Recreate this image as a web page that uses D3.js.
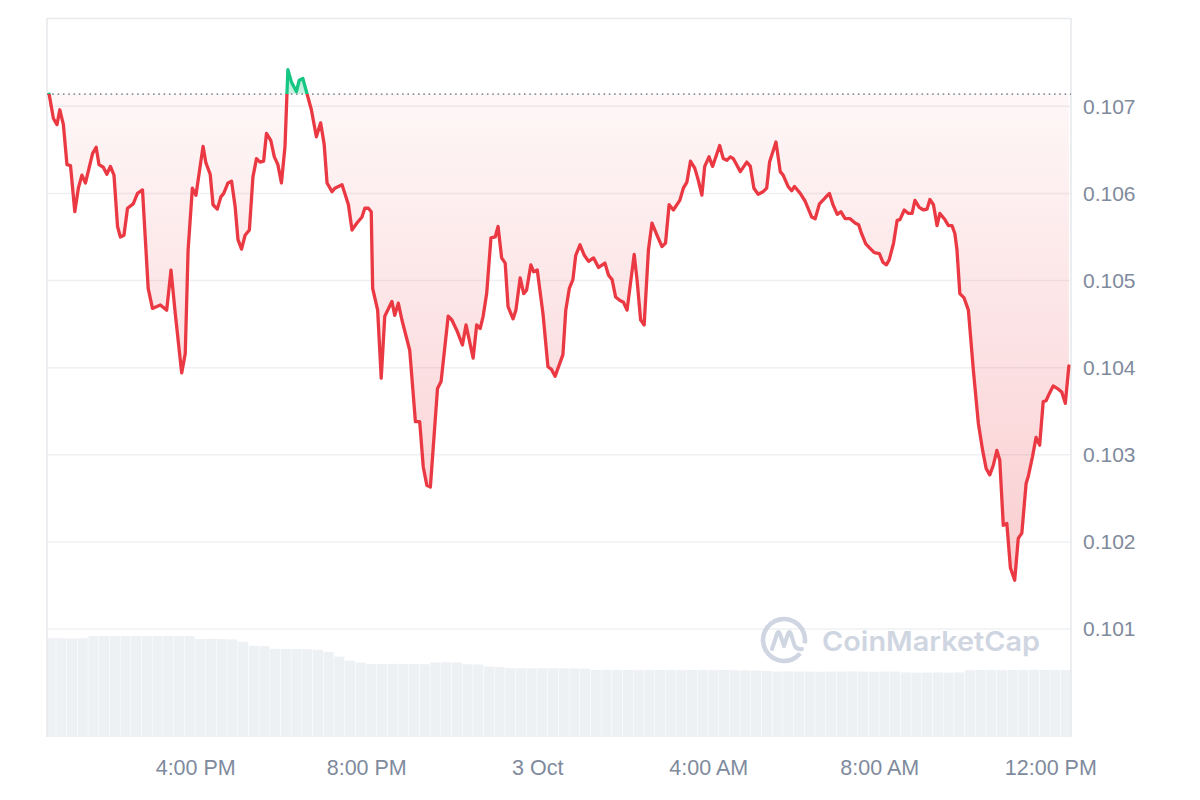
<!DOCTYPE html>
<html>
<head>
<meta charset="utf-8">
<script src="https://cdn.jsdelivr.net/npm/d3@7"></script>
<style>
  html, body { margin: 0; padding: 0; background: #ffffff; }
  svg { display: block; }
</style>
</head>
<body>
<svg id="chart" width="1200" height="800"></svg>
<script>
// ---------- DATA ----------
const openPrice = 0.10714;
const priceTimes = [
"10-02 12:35","10-02 12:41","10-02 12:46","10-02 12:50","10-02 12:55","10-02 13:00","10-02 13:05","10-02 13:11","10-02 13:16","10-02 13:21",
"10-02 13:26","10-02 13:36","10-02 13:41","10-02 13:45","10-02 13:51","10-02 13:56","10-02 14:01","10-02 14:06","10-02 14:11","10-02 14:15",
"10-02 14:20","10-02 14:25","10-02 14:33","10-02 14:39","10-02 14:46","10-02 14:54","10-02 15:00","10-02 15:11","10-02 15:20","10-02 15:26",
"10-02 15:32","10-02 15:41","10-02 15:46","10-02 15:50","10-02 15:56","10-02 16:01","10-02 16:11","10-02 16:15","10-02 16:21","10-02 16:25",
"10-02 16:31","10-02 16:36","10-02 16:40","10-02 16:46","10-02 16:51","10-02 16:56","10-02 17:00","10-02 17:05","10-02 17:10","10-02 17:16",
"10-02 17:21","10-02 17:26","10-02 17:31","10-02 17:36","10-02 17:40","10-02 17:46","10-02 17:51","10-02 17:56","10-02 18:01","10-02 18:06",
"10-02 18:10","10-02 18:15","10-02 18:22","10-02 18:26","10-02 18:31","10-02 18:36","10-02 18:43","10-02 18:50","10-02 18:56","10-02 19:01",
"10-02 19:05","10-02 19:12","10-02 19:16","10-02 19:26","10-02 19:30","10-02 19:35","10-02 19:40","10-02 19:47","10-02 19:54","10-02 19:58",
"10-02 20:03","10-02 20:07","10-02 20:09","10-02 20:16","10-02 20:21","10-02 20:26","10-02 20:36","10-02 20:40","10-02 20:45","10-02 20:50",
"10-02 21:01","10-02 21:09","10-02 21:15","10-02 21:20","10-02 21:25","10-02 21:30","10-02 21:40","10-02 21:45","10-02 21:55","10-02 22:00",
"10-02 22:07","10-02 22:15","10-02 22:20","10-02 22:30","10-02 22:35","10-02 22:40","10-02 22:44","10-02 22:49","10-02 22:55","10-02 23:01",
"10-02 23:05","10-02 23:10","10-02 23:15","10-02 23:19","10-02 23:26","10-02 23:30","10-02 23:36","10-02 23:41","10-02 23:45","10-02 23:51",
"10-02 23:55","10-03 00:00","10-03 00:08","10-03 00:15","10-03 00:20","10-03 00:25","10-03 00:36","10-03 00:40","10-03 00:45","10-03 00:50",
"10-03 00:54","10-03 01:00","10-03 01:06","10-03 01:12","10-03 01:19","10-03 01:26","10-03 01:35","10-03 01:40","10-03 01:45","10-03 01:50",
"10-03 01:56","10-03 02:01","10-03 02:06","10-03 02:16","10-03 02:20","10-03 02:25","10-03 02:30","10-03 02:36","10-03 02:41","10-03 02:47",
"10-03 02:55","10-03 03:00","10-03 03:05","10-03 03:11","10-03 03:20","10-03 03:25","10-03 03:30","10-03 03:35","10-03 03:41","10-03 03:46",
"10-03 03:51","10-03 03:55","10-03 04:01","10-03 04:06","10-03 04:16","10-03 04:21","10-03 04:26","10-03 04:31","10-03 04:35","10-03 04:45",
"10-03 04:54","10-03 04:59","10-03 05:04","10-03 05:10","10-03 05:17","10-03 05:22","10-03 05:26","10-03 05:35","10-03 05:41","10-03 05:45",
"10-03 05:52","10-03 05:57","10-03 06:01","10-03 06:09","10-03 06:16","10-03 06:25","10-03 06:30","10-03 06:36","10-03 06:44","10-03 06:50",
"10-03 06:55","10-03 07:01","10-03 07:06","10-03 07:12","10-03 07:19","10-03 07:26","10-03 07:31","10-03 07:35","10-03 07:41","10-03 07:47",
"10-03 07:53","10-03 08:00","10-03 08:05","10-03 08:10","10-03 08:14","10-03 08:20","10-03 08:25","10-03 08:29","10-03 08:35","10-03 08:41",
"10-03 08:46","10-03 08:50","10-03 08:56","10-03 09:02","10-03 09:07","10-03 09:11","10-03 09:16","10-03 09:21","10-03 09:25","10-03 09:32",
"10-03 09:37","10-03 09:42","10-03 09:46","10-03 09:49","10-03 09:53","10-03 09:59","10-03 10:05","10-03 10:12","10-03 10:19","10-03 10:25",
"10-03 10:30","10-03 10:35","10-03 10:40","10-03 10:45","10-03 10:49","10-03 10:54","10-03 10:59","10-03 11:04","10-03 11:10","10-03 11:15",
"10-03 11:20","10-03 11:26","10-03 11:29","10-03 11:35","10-03 11:40","10-03 11:45","10-03 11:50","10-03 11:54","10-03 11:59","10-03 12:04",
"10-03 12:10","10-03 12:16","10-03 12:21","10-03 12:26"
];
const prices = [
0.10714,0.10686,0.10679,0.10696,0.10679,0.10633,0.10632,0.10579,0.10606,0.10621,
0.10612,0.10646,0.10653,0.10633,0.10630,0.10622,0.10631,0.10621,0.10562,0.10550,
0.10552,0.10583,0.10588,0.10600,0.10604,0.10491,0.10468,0.10472,0.10466,0.10512,
0.10462,0.10394,0.10416,0.10535,0.10606,0.10598,0.10654,0.10635,0.10622,0.10587,
0.10582,0.10596,0.10600,0.10612,0.10614,0.10585,0.10547,0.10536,0.10552,0.10558,
0.10619,0.10640,0.10636,0.10637,0.10669,0.10661,0.10642,0.10633,0.10612,0.10654,
0.10742,0.10728,0.10717,0.10730,0.10732,0.10717,0.10696,0.10665,0.10681,0.10656,
0.10612,0.10602,0.10606,0.10610,0.10600,0.10587,0.10558,0.10566,0.10573,0.10583,
0.10583,0.10579,0.10491,0.10466,0.10388,0.10459,0.10476,0.10460,0.10474,0.10455,
0.10420,0.10338,0.10338,0.10286,0.10265,0.10263,0.10376,0.10384,0.10459,0.10455,
0.10443,0.10426,0.10449,0.10411,0.10449,0.10445,0.10459,0.10485,0.10549,0.10550,
0.10562,0.10526,0.10520,0.10470,0.10456,0.10466,0.10503,0.10485,0.10489,0.10518,
0.10510,0.10512,0.10462,0.10401,0.10398,0.10390,0.10415,0.10466,0.10491,0.10501,
0.10529,0.10541,0.10529,0.10522,0.10526,0.10515,0.10520,0.10506,0.10501,0.10481,
0.10477,0.10475,0.10466,0.10530,0.10501,0.10455,0.10449,0.10535,0.10566,0.10554,
0.10539,0.10543,0.10587,0.10581,0.10592,0.10606,0.10613,0.10637,0.10629,0.10615,
0.10598,0.10631,0.10642,0.10631,0.10655,0.10640,0.10638,0.10642,0.10640,0.10625,
0.10636,0.10631,0.10606,0.10599,0.10602,0.10606,0.10636,0.10659,0.10625,0.10621,
0.10608,0.10603,0.10608,0.10600,0.10591,0.10573,0.10571,0.10588,0.10595,0.10600,
0.10587,0.10576,0.10579,0.10571,0.10571,0.10566,0.10564,0.10554,0.10542,0.10537,
0.10532,0.10531,0.10521,0.10518,0.10524,0.10543,0.10569,0.10570,0.10581,0.10577,
0.10577,0.10592,0.10584,0.10581,0.10582,0.10593,0.10587,0.10563,0.10577,0.10570,
0.10563,0.10563,0.10554,0.10535,0.10485,0.10480,0.10466,0.10397,0.10336,0.10305,
0.10284,0.10277,0.10288,0.10305,0.10294,0.10219,0.10221,0.10170,0.10156,0.10204,
0.10210,0.10267,0.10275,0.10298,0.10320,0.10311,0.10361,0.10362,0.10371,0.10379,
0.10376,0.10372,0.10359,0.10402
];
const volumeTimes = [
"10-02 12:30","10-02 12:45","10-02 13:00","10-02 13:15","10-02 13:30","10-02 13:45","10-02 14:00","10-02 14:15",
"10-02 14:30","10-02 14:45","10-02 15:00","10-02 15:15","10-02 15:30","10-02 15:45","10-02 16:00","10-02 16:15",
"10-02 16:30","10-02 16:45","10-02 17:00","10-02 17:15","10-02 17:30","10-02 17:45","10-02 18:00","10-02 18:15",
"10-02 18:30","10-02 18:45","10-02 19:00","10-02 19:15","10-02 19:30","10-02 19:45","10-02 20:00","10-02 20:15",
"10-02 20:30","10-02 20:45","10-02 21:00","10-02 21:15","10-02 21:30","10-02 21:45","10-02 22:00","10-02 22:15",
"10-02 22:30","10-02 22:45","10-02 23:00","10-02 23:15","10-02 23:30","10-02 23:45","10-03 00:00","10-03 00:15",
"10-03 00:30","10-03 00:45","10-03 01:00","10-03 01:15","10-03 01:30","10-03 01:45","10-03 02:00","10-03 02:15",
"10-03 02:30","10-03 02:45","10-03 03:00","10-03 03:15","10-03 03:30","10-03 03:45","10-03 04:00","10-03 04:15",
"10-03 04:30","10-03 04:45","10-03 05:00","10-03 05:15","10-03 05:30","10-03 05:45","10-03 06:00","10-03 06:15",
"10-03 06:30","10-03 06:45","10-03 07:00","10-03 07:15","10-03 07:30","10-03 07:45","10-03 08:00","10-03 08:15",
"10-03 08:30","10-03 08:45","10-03 09:00","10-03 09:15","10-03 09:30","10-03 09:45","10-03 10:00","10-03 10:15",
"10-03 10:30","10-03 10:45","10-03 11:00","10-03 11:15","10-03 11:30","10-03 11:45","10-03 12:00","10-03 12:15"
];
const volumes = [
49.4,49.4,49.3,49.4,
50.5,50.6,50.5,50.5,50.6,50.5,50.5,50.6,50.5,50.5,
49.0,49.1,49.0,48.8,
47.6,
45.6,45.4,
44.1,44.0,44.0,43.9,43.6,
42.6,40.2,38.2,37.2,
36.5,36.5,36.6,36.5,36.5,36.4,
37.3,37.4,37.3,
36.4,36.3,
35.2,35.0,
34.4,34.4,34.3,34.4,34.4,34.3,34.3,34.2,
33.5,33.6,33.5,33.5,33.4,33.5,33.5,33.5,33.4,33.5,33.5,33.4,33.5,33.4,33.3,
33.2,33.1,
32.7,32.8,32.7,32.7,32.6,32.7,32.7,32.8,32.7,32.6,32.7,32.7,
32.3,32.2,32.2,32.3,32.2,32.3,
33.4,33.5,33.5,33.4,33.5,33.5,33.6,33.5,33.5,33.5
];
const yTicks = [0.101, 0.102, 0.103, 0.104, 0.105, 0.106, 0.107];
const xTickTimes = ["10-02 16:00","10-02 20:00","10-03 00:00","10-03 04:00","10-03 08:00","10-03 12:00"];
const xTickLabels = ["4:00 PM","8:00 PM","3 Oct","4:00 AM","8:00 AM","12:00 PM"];
const xDomain = ["10-02 12:32","10-03 12:29"];
const watermarkText = "CoinMarketCap";

// ---------- SETUP ----------
const parse = d3.timeParse("%m-%d %H:%M");
const priceData = priceTimes.map((t, i) => ({ t: parse(t), v: prices[i] }));
const volData = volumeTimes.map((t, i) => ({ t: parse(t), v: volumes[i] }));

const L = 47, R = 1071, T = 18, B = 737;
const RED = "#ea3943", GREEN = "#16c784";

const x = d3.scaleTime().domain(xDomain.map(parse)).range([L, R]);
const y = d3.scaleLinear().domain([0.101, 0.107]).range([629, 106.3]);
const yVol = d3.scaleLinear().domain([0, 50]).range([B, 637]);

const svg = d3.select("#chart");
svg.append("rect").attr("width", 1200).attr("height", 800).attr("fill", "#ffffff");

const defs = svg.append("defs");
const yOpen = y(openPrice);
const yMin = y(d3.min(prices));

const gradR = defs.append("linearGradient").attr("id", "gradRed")
  .attr("gradientUnits", "userSpaceOnUse").attr("x1", 0).attr("x2", 0)
  .attr("y1", yOpen).attr("y2", yMin);
gradR.append("stop").attr("offset", 0).attr("stop-color", RED).attr("stop-opacity", 0.04);
gradR.append("stop").attr("offset", 1).attr("stop-color", RED).attr("stop-opacity", 0.25);

const gradG = defs.append("linearGradient").attr("id", "gradGreen")
  .attr("gradientUnits", "userSpaceOnUse").attr("x1", 0).attr("x2", 0)
  .attr("y1", y(d3.max(prices))).attr("y2", yOpen);
gradG.append("stop").attr("offset", 0).attr("stop-color", GREEN).attr("stop-opacity", 0.4);
gradG.append("stop").attr("offset", 1).attr("stop-color", GREEN).attr("stop-opacity", 0.2);

defs.append("clipPath").attr("id", "clipBelow").append("rect")
  .attr("x", 0).attr("y", yOpen).attr("width", 1200).attr("height", 800);
defs.append("clipPath").attr("id", "clipAbove").append("rect")
  .attr("x", 0).attr("y", 0).attr("width", 1200).attr("height", yOpen);
defs.append("clipPath").attr("id", "clipPlot").append("rect")
  .attr("x", L).attr("y", T).attr("width", R - L).attr("height", B - T);

// ---------- GRID ----------
svg.append("g").selectAll("line").data(yTicks).join("line")
  .attr("x1", L).attr("x2", R)
  .attr("y1", d => y(d)).attr("y2", d => y(d))
  .attr("stroke", "#eff0f3").attr("stroke-width", 1.5);

// ---------- VOLUME ----------
const step = x(parse("10-02 12:45")) - x(parse("10-02 12:30"));
svg.append("g").attr("clip-path", "url(#clipPlot)")
  .selectAll("rect").data(volData).join("rect")
  .attr("x", d => x(d.t))
  .attr("y", d => yVol(d.v))
  .attr("width", step - 0.5)
  .attr("height", d => B - yVol(d.v))
  .attr("fill", "#eef1f4");

// ---------- FRAME ----------
const frame = svg.append("g").attr("stroke", "#e7e9ec").attr("stroke-width", 1.6).attr("fill", "none");
frame.append("line").attr("x1", L).attr("x2", R).attr("y1", T + 0.5).attr("y2", T + 0.5);
frame.append("line").attr("x1", L).attr("x2", L).attr("y1", T).attr("y2", B);
frame.append("line").attr("x1", R).attr("x2", R).attr("y1", T).attr("y2", B);

// ---------- WATERMARK ----------
const wm = svg.append("g").attr("opacity", 0.95);
const wmColor = "#cdd4e0";
const cx = 784, cy = 640, r = 21;
const arc = d3.arc().innerRadius(r - 2.3).outerRadius(r + 2.3)
  .startAngle(Math.PI * 0.72).endAngle(Math.PI * 2.55);
wm.append("path").attr("transform", `translate(${cx},${cy})`).attr("d", arc()).attr("fill", wmColor);
wm.append("path").attr("transform", `translate(${cx},${cy})`)
  .attr("d", "M -12 9 L -7 -6 Q -5.5 -10 -4 -6 L 0 6 L 4 -6 Q 5.5 -10 7 -6 L 10 4 Q 12 10 18 9")
  .attr("fill", "none").attr("stroke", wmColor).attr("stroke-width", 4)
  .attr("stroke-linecap", "round").attr("stroke-linejoin", "round");
wm.append("text").attr("x", 822).attr("y", 651)
  .attr("font-family", "Inter, 'Noto Sans', sans-serif").attr("font-weight", 600)
  .attr("font-size", 27).attr("fill", wmColor)
  .attr("textLength", 218).attr("lengthAdjust", "spacingAndGlyphs")
  .text(watermarkText);

// ---------- AREAS ----------
const areaGen = d3.area().x(d => x(d.t)).y0(yOpen).y1(d => y(d.v));
svg.append("path").datum(priceData).attr("d", areaGen)
  .attr("fill", "url(#gradRed)").attr("clip-path", "url(#clipBelow)");
svg.append("path").datum(priceData).attr("d", areaGen)
  .attr("fill", "url(#gradGreen)").attr("clip-path", "url(#clipAbove)");

// ---------- OPEN PRICE DOTTED LINE ----------
svg.append("line").attr("x1", L).attr("x2", R).attr("y1", yOpen).attr("y2", yOpen)
  .attr("stroke", "#8a919e").attr("stroke-width", 1.6).attr("stroke-dasharray", "1.6,3.7");

// ---------- PRICE LINE ----------
const lineGen = d3.line().x(d => x(d.t)).y(d => y(d.v));
svg.append("path").datum(priceData).attr("d", lineGen)
  .attr("fill", "none").attr("stroke", RED).attr("stroke-width", 3.3)
  .attr("stroke-linejoin", "round").attr("stroke-linecap", "round")
  .attr("clip-path", "url(#clipBelow)");
svg.append("path").datum(priceData).attr("d", lineGen)
  .attr("fill", "none").attr("stroke", GREEN).attr("stroke-width", 3.3)
  .attr("stroke-linejoin", "round").attr("stroke-linecap", "round")
  .attr("clip-path", "url(#clipAbove)");

// ---------- AXES ----------
const fontFam = "'Liberation Sans', Arial, Helvetica, sans-serif";
const yAxis = svg.append("g").attr("transform", `translate(${R},0)`)
  .call(d3.axisRight(y).tickValues(yTicks).tickFormat(d3.format(".3f")).tickSize(0).tickPadding(12));
yAxis.select(".domain").remove();
yAxis.selectAll("text").attr("font-family", fontFam).attr("font-size", 21).attr("fill", "#808a9d");

const labelMap = new Map(xTickTimes.map((t, i) => [parse(t).getTime(), xTickLabels[i]]));
const xAxis = svg.append("g").attr("transform", `translate(0,${B})`)
  .call(d3.axisBottom(x).tickValues(xTickTimes.map(parse))
    .tickFormat(d => labelMap.get(d.getTime())).tickSize(0).tickPadding(23));
xAxis.select(".domain").remove();
xAxis.selectAll("text").attr("font-family", fontFam).attr("font-size", 21.5).attr("fill", "#808a9d");
</script>
</body>
</html>
